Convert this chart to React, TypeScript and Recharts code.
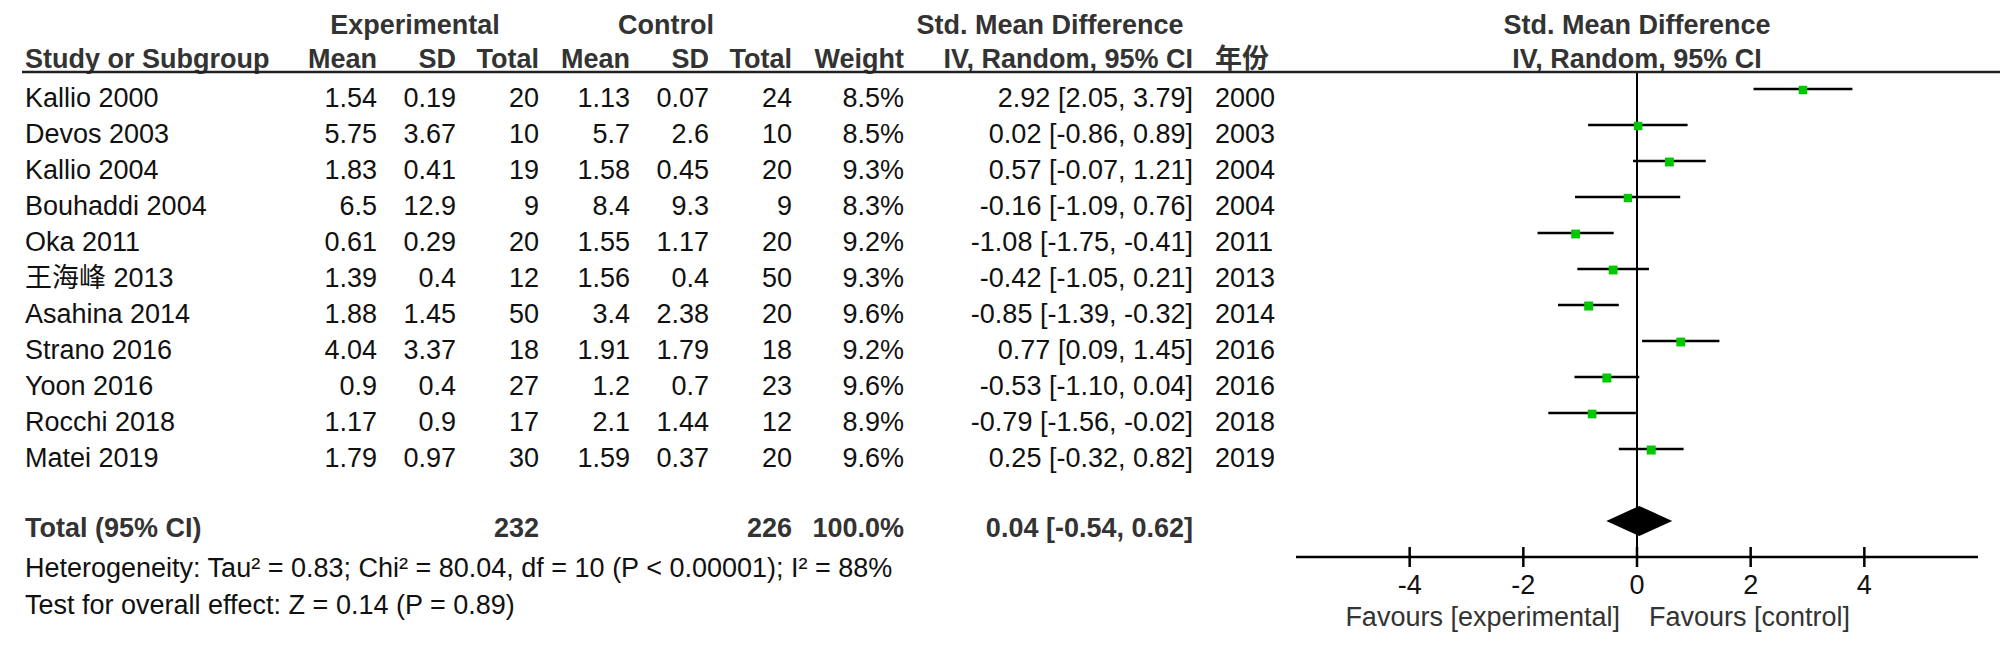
import { ComposedChart, ReferenceArea, ReferenceLine, Scatter, XAxis, YAxis } from 'recharts'

const studies = ['Kallio 2000', 'Devos 2003', 'Kallio 2004', 'Bouhaddi 2004', 'Oka 2011', '王海峰 2013', 'Asahina 2014', 'Strano 2016', 'Yoon 2016', 'Rocchi 2018', 'Matei 2019']
const expMean = [1.54, 5.75, 1.83, 6.5, 0.61, 1.39, 1.88, 4.04, 0.9, 1.17, 1.79]
const expSD = [0.19, 3.67, 0.41, 12.9, 0.29, 0.4, 1.45, 3.37, 0.4, 0.9, 0.97]
const expTotal = [20, 10, 19, 9, 20, 12, 50, 18, 27, 17, 30]
const ctlMean = [1.13, 5.7, 1.58, 8.4, 1.55, 1.56, 3.4, 1.91, 1.2, 2.1, 1.59]
const ctlSD = [0.07, 2.6, 0.45, 9.3, 1.17, 0.4, 2.38, 1.79, 0.7, 1.44, 0.37]
const ctlTotal = [24, 10, 20, 9, 20, 50, 20, 18, 23, 12, 20]
const weights = [8.5, 8.5, 9.3, 8.3, 9.2, 9.3, 9.6, 9.2, 9.6, 8.9, 9.6]
const smd = [2.92, 0.02, 0.57, -0.16, -1.08, -0.42, -0.85, 0.77, -0.53, -0.79, 0.25]
const ciLow = [2.05, -0.86, -0.07, -1.09, -1.75, -1.05, -1.39, 0.09, -1.1, -1.56, -0.32]
const ciHigh = [3.79, 0.89, 1.21, 0.76, -0.41, 0.21, -0.32, 1.45, 0.04, -0.02, 0.82]
const years = [2000, 2003, 2004, 2004, 2011, 2013, 2014, 2016, 2016, 2018, 2019]

const totalExp = 232
const totalCtl = 226
const totalSmd = 0.04
const totalLow = -0.54
const totalHigh = 0.62

const xTicks = [-4, -2, 0, 2, 4]
const xDomain: [number, number] = [-6, 6]
const heterogeneity = 'Heterogeneity: Tau² = 0.83; Chi² = 80.04, df = 10 (P < 0.00001); I² = 88%'
const overallEffect = 'Test for overall effect: Z = 0.14 (P = 0.89)'

const FONT = "'Liberation Sans', Arial, 'Noto Sans CJK SC', sans-serif"
const FS = 27
const W = 2000
const H = 647
const TOP = 71
const AXIS_Y = 557
const PLOT_LEFT = 1296
const PLOT_RIGHT = 1978
const yDomain: [number, number] = [-0.5, 13]
const TOTAL_ROW = 12

// columns of the table (right edges unless noted)
const col = { name: 25, expMean: 377, expSD: 456, expN: 539, ctlMean: 630, ctlSD: 709, ctlN: 792, weight: 904, ci: 1193, year: 1215 }

const rowY = (i: number) => TOP + ((i - yDomain[0]) / (yDomain[1] - yDomain[0])) * (AXIS_Y - TOP)
const xPos = (v: number) => PLOT_LEFT + ((v - xDomain[0]) / (xDomain[1] - xDomain[0])) * (PLOT_RIGHT - PLOT_LEFT)
const fmtCI = (m: number, l: number, h: number) => `${m.toFixed(2)} [${l.toFixed(2)}, ${h.toFixed(2)}]`

const points = studies.map((name, i) => ({ name, x: smd[i], y: i, w: weights[i] }))

function Square(props: any) {
  const { cx, cy, payload } = props
  const s = 9 * Math.sqrt(payload.w / 9.6)
  return <rect x={cx - s / 2} y={cy - s / 2 + 1} width={s} height={s} fill="#00c800" />
}

function Diamond(props: any) {
  const { x, y, width, height } = props
  const mid = x + (width * (totalSmd - totalLow)) / (totalHigh - totalLow)
  return (
    <polygon
      points={`${x},${y + height / 2} ${mid},${y} ${x + width},${y + height / 2} ${mid},${y + height}`}
      fill="#000"
    />
  )
}

function AxisTick(props: any) {
  const { x, y, payload } = props
  return (
    <g>
      <line x1={x} x2={x} y1={y - 10} y2={y + 10} stroke="#000" strokeWidth={2.5} />
      <text x={x} y={y + 37} textAnchor="middle" fontSize={FS} fontFamily={FONT} fill="#111">
        {payload.value}
      </text>
    </g>
  )
}

function T({ x, y, children, anchor = 'end', bold = false, fill = '#111' }: any) {
  return (
    <text x={x} y={y} textAnchor={anchor} fontSize={FS} fontFamily={FONT} fontWeight={bold ? 700 : 400} fill={fill}>
      {children}
    </text>
  )
}

function Table() {
  const h1 = 34
  const h2 = 68
  const hc = '#333'
  const zero = xPos(0)
  const totY = rowY(TOTAL_ROW) + 16
  return (
    <svg width={W} height={H} style={{ position: 'absolute', left: 0, top: 0, pointerEvents: 'none' }}>
      <T x={415} y={h1} anchor="middle" bold fill={hc}>Experimental</T>
      <T x={666} y={h1} anchor="middle" bold fill={hc}>Control</T>
      <T x={1050} y={h1} anchor="middle" bold fill={hc}>Std. Mean Difference</T>
      <T x={(PLOT_LEFT + PLOT_RIGHT) / 2} y={h1} anchor="middle" bold fill={hc}>Std. Mean Difference</T>

      <T x={col.name} y={h2} anchor="start" bold fill={hc}>Study or Subgroup</T>
      <T x={col.expMean} y={h2} bold fill={hc}>Mean</T>
      <T x={col.expSD} y={h2} bold fill={hc}>SD</T>
      <T x={col.expN} y={h2} bold fill={hc}>Total</T>
      <T x={col.ctlMean} y={h2} bold fill={hc}>Mean</T>
      <T x={col.ctlSD} y={h2} bold fill={hc}>SD</T>
      <T x={col.ctlN} y={h2} bold fill={hc}>Total</T>
      <T x={col.weight} y={h2} bold fill={hc}>Weight</T>
      <T x={col.ci} y={h2} bold fill={hc}>IV, Random, 95% CI</T>
      <T x={col.year} y={h2} anchor="start" bold fill={hc}>年份</T>
      <T x={(PLOT_LEFT + PLOT_RIGHT) / 2} y={h2} anchor="middle" bold fill={hc}>IV, Random, 95% CI</T>
      <line x1={22} x2={W} y1={72} y2={72} stroke="#222" strokeWidth={2.5} />

      {studies.map((name, i) => {
        const y = rowY(i) + 18
        return (
          <g key={name}>
            <T x={col.name} y={y} anchor="start">{name}</T>
            <T x={col.expMean} y={y}>{expMean[i]}</T>
            <T x={col.expSD} y={y}>{expSD[i]}</T>
            <T x={col.expN} y={y}>{expTotal[i]}</T>
            <T x={col.ctlMean} y={y}>{ctlMean[i]}</T>
            <T x={col.ctlSD} y={y}>{ctlSD[i]}</T>
            <T x={col.ctlN} y={y}>{ctlTotal[i]}</T>
            <T x={col.weight} y={y}>{weights[i].toFixed(1)}%</T>
            <T x={col.ci} y={y}>{fmtCI(smd[i], ciLow[i], ciHigh[i])}</T>
            <T x={col.year} y={y} anchor="start">{years[i]}</T>
          </g>
        )
      })}

      <T x={col.name} y={totY} anchor="start" bold fill={hc}>Total (95% CI)</T>
      <T x={col.expN} y={totY} bold fill={hc}>{totalExp}</T>
      <T x={col.ctlN} y={totY} bold fill={hc}>{totalCtl}</T>
      <T x={col.weight} y={totY} bold fill={hc}>100.0%</T>
      <T x={col.ci} y={totY} bold fill={hc}>{fmtCI(totalSmd, totalLow, totalHigh)}</T>
      <T x={col.name} y={577} anchor="start">{heterogeneity}</T>
      <T x={col.name} y={614} anchor="start">{overallEffect}</T>

      <T x={zero - 17} y={626} fill="#333">Favours [experimental]</T>
      <T x={zero + 12} y={626} anchor="start" fill="#333">Favours [control]</T>
    </svg>
  )
}

export default function App() {
  return (
    <div style={{ position: 'relative', width: W, height: H, background: '#fff' }}>
      <style>{'body { margin: 0; background: #fff; }'}</style>
      <ComposedChart
        width={W}
        height={H}
        data={points}
        margin={{ top: TOP, right: W - PLOT_RIGHT, bottom: 0, left: PLOT_LEFT }}
        style={{ position: 'absolute', left: 0, top: 0 }}
      >
        <XAxis
          type="number"
          dataKey="x"
          domain={xDomain}
          ticks={xTicks}
          allowDataOverflow
          height={H - AXIS_Y}
          axisLine={{ stroke: '#000', strokeWidth: 2.5 }}
          tickLine={false}
          tickSize={0}
          tickMargin={0}
          tick={<AxisTick />}
          interval={0}
        />
        <YAxis type="number" dataKey="y" domain={yDomain} reversed hide />
        <ReferenceLine x={0} stroke="#000" strokeWidth={2} />
        {studies.map((name, i) => (
          <ReferenceLine
            key={name}
            segment={[{ x: ciLow[i], y: i }, { x: ciHigh[i], y: i }]}
            stroke="#000"
            strokeWidth={2.5}
          />
        ))}
        <ReferenceArea
          x1={totalLow}
          x2={totalHigh}
          y1={TOTAL_ROW - 0.42}
          y2={TOTAL_ROW + 0.42}
          shape={<Diamond />}
        />
        <Scatter dataKey="y" shape={<Square />} isAnimationActive={false} />
      </ComposedChart>
      <Table />
    </div>
  )
}
